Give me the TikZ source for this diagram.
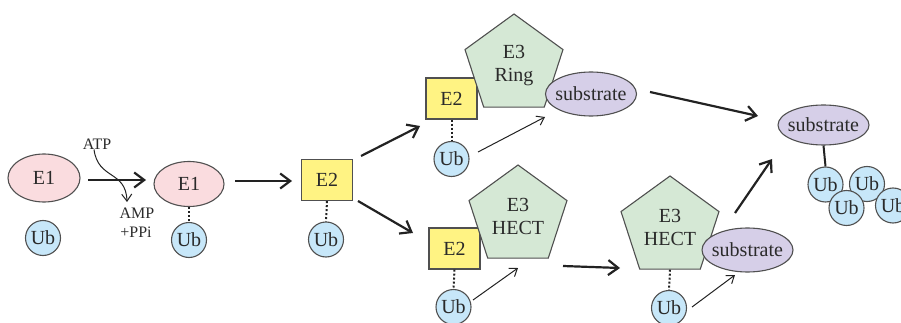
\documentclass[tikz,border=0pt]{standalone}
\usepackage{fontspec}
\setmainfont{Liberation Serif}
\usetikzlibrary{shapes.geometric,arrows.meta}
\definecolor{pinkE}{HTML}{FADCDF}
\definecolor{ubblue}{HTML}{C7E7F9}
\definecolor{yellowE}{HTML}{FFF383}
\definecolor{greenE}{HTML}{D5E8D5}
\definecolor{lavE}{HTML}{D6CFE8}
\definecolor{outl}{HTML}{505050}
\definecolor{txt}{HTML}{2A2A2A}
\definecolor{arrowc}{HTML}{222222}
\tikzset{
  base/.style={draw=outl, line width=1.1pt, font=\fontsize{20}{23}\selectfont, text=txt, inner sep=0pt},
  ubnode/.style={base, circle, fill=ubblue, minimum size=35pt},
  e1node/.style={base, ellipse, fill=pinkE, minimum width=72pt, minimum height=48pt},
  e2node/.style={base, rectangle, fill=yellowE, minimum width=51pt, minimum height=41pt},
  e3node/.style={base, regular polygon, regular polygon sides=5, fill=greenE, minimum size=103pt, align=center},
  subnode/.style={base, ellipse, fill=lavE, inner xsep=-8pt, minimum width=91pt, minimum height=44pt},
  smalltext/.style={font=\fontsize{16}{18}\selectfont, text=txt, inner sep=0pt},
  bigarrow/.style={-{Straight Barb[length=10pt,width=15pt]}, line width=2.2pt, draw=arrowc},
  thinarrow/.style={-{Straight Barb[length=7pt,width=10pt]}, line width=1pt, draw=arrowc},
  linkdot/.style={line width=2pt, dash pattern=on 2pt off 2pt, draw=arrowc},
  linksolid/.style={line width=2pt, draw=arrowc},
}
\begin{document}
\begin{tikzpicture}[x=1pt,y=-1pt]
\useasboundingbox (0,0) rectangle (901,323);
\clip (0,0) rectangle (901,323);
% left part
\node[e1node] (e1a) at (44,178) {E1};
\node[ubnode] (uba) at (43,238) {Ub};
\node[smalltext] (atp) at (97,144) {ATP};
\node[smalltext] (amp) at (137,213) {AMP};
\node[smalltext] (ppi) at (136,232) {+PPi};
\node[e1node, minimum width=70pt, minimum height=45pt] (e1b) at (189,184) {E1};
\node[ubnode] (ubb) at (189,240) {Ub};
\node[e2node] (e2a) at (327,180) {E2};
\node[ubnode] (ubc) at (326,239.5) {Ub};
% upper branch
\node[e2node] (e2b) at (451.5,98.5) {E2};
\node[ubnode] (ubd) at (451.5,159) {Ub};
\node[e3node] (e3a) at (514,65.5) {E3\\Ring};
\node[subnode] (suba) at (591,94) {substrate};
% lower branch
\node[e2node] (e2c) at (454.5,248.5) {E2};
\node[ubnode] (ube) at (453.5,307) {Ub};
\node[e3node] (e3b) at (518,216.5) {E3\\HECT};
\node[e3node] (e3c) at (670,227.5) {E3\\HECT};
\node[subnode] (subb) at (747.5,250) {substrate};
\node[ubnode] (ubf) at (669,308) {Ub};
% product
\node[subnode, minimum height=40pt] (subc) at (823.5,125) {substrate};
\node[ubnode] (ub1) at (825.5,184.5) {Ub};
\node[ubnode] (ub2) at (867,184) {Ub};
\node[ubnode] (ub4) at (893,205.5) {Ub};
\node[ubnode] (ub3) at (846.5,208) {Ub};
% free arrow ends
\coordinate (a1s) at (88,180); \coordinate (a1e) at (146,180);
\coordinate (atpe) at (127,202);
\coordinate (a2s) at (235,181); \coordinate (a2e) at (292,181);
\coordinate (a3s) at (361,156); \coordinate (a3e) at (420,126);
\coordinate (a4s) at (358,201); \coordinate (a4e) at (413,233);
\coordinate (t1s) at (478,152); \coordinate (t1e) at (545,117);
\coordinate (a5s) at (650,92);  \coordinate (a5e) at (758,116);
\coordinate (t2s) at (473,300); \coordinate (t2e) at (518,268);
\coordinate (a6s) at (563,266); \coordinate (a6e) at (620,268);
\coordinate (t3s) at (692,307); \coordinate (t3e) at (735,275);
\coordinate (a7s) at (735,213); \coordinate (a7e) at (772,159);
% connectors
\draw[bigarrow] (a1s) -- (a1e);
\draw[thinarrow] ([xshift=-3pt]atp.south) .. controls (98,180) and (126,170) .. (atpe);
\draw[linkdot] (e1b.south) -- (ubb.north);
\draw[bigarrow] (a2s) -- (a2e);
\draw[linkdot] (e2a.south) -- (ubc.north);
\draw[bigarrow] (a3s) -- (a3e);
\draw[bigarrow] (a4s) -- (a4e);
\draw[linkdot] (e2b.south) -- (ubd.north);
\draw[thinarrow] (t1s) -- (t1e);
\draw[bigarrow] (a5s) -- (a5e);
\draw[linksolid] (subc.south) -- (ub1.north);
\draw[linkdot] (e2c.south) -- (ube.north);
\draw[thinarrow] (t2s) -- (t2e);
\draw[bigarrow] (a6s) -- (a6e);
\draw[linkdot] (e3c.south) -- (ubf.north);
\draw[thinarrow] (t3s) -- (t3e);
\draw[bigarrow] (a7s) -- (a7e);
\end{tikzpicture}
\end{document}
